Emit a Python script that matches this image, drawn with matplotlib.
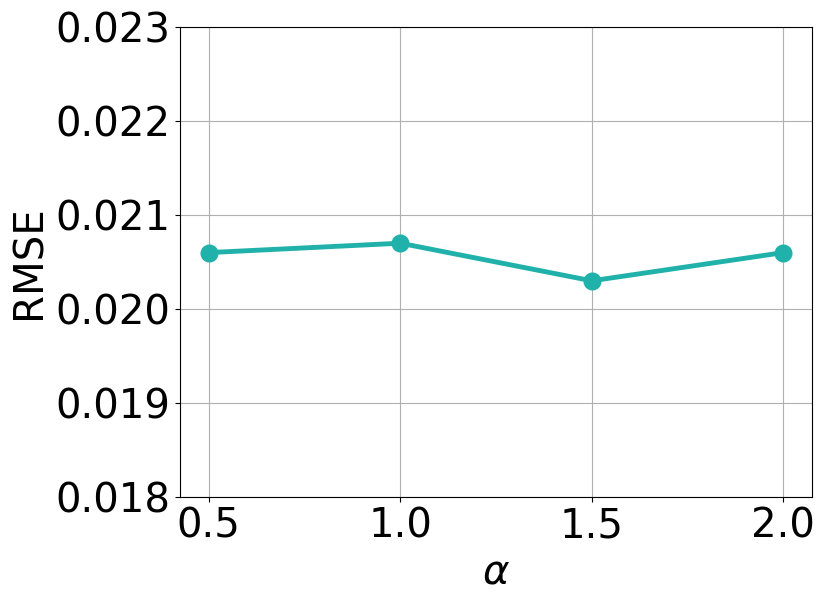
import numpy as np
import matplotlib
matplotlib.use('Agg')
import matplotlib.pyplot as plt

alpha = [0.5, 1.0, 1.5, 2.0]
rmse = [0.0206, 0.0207, 0.0203, 0.0206]
y_ticks = [0.018, 0.019, 0.020, 0.021, 0.022, 0.023]

fig = plt.figure(figsize=(8.31, 6.05), dpi=100)
ax = fig.add_axes([180 / 831, 1 - 497 / 605, 632 / 831, 470 / 605])

ax.plot(alpha, rmse, color='#20b2aa', linewidth=3.5, marker='o', markersize=12)
ax.set_ylim(0.018, 0.023)
ax.set_yticks(y_ticks)
ax.set_xticks(alpha)
ax.grid(True)
ax.tick_params(labelsize=29)
ax.set_xlabel(r'$\alpha$', fontsize=29)
ax.set_ylabel('RMSE', fontsize=29)

fig.savefig('out.png', dpi=100)
